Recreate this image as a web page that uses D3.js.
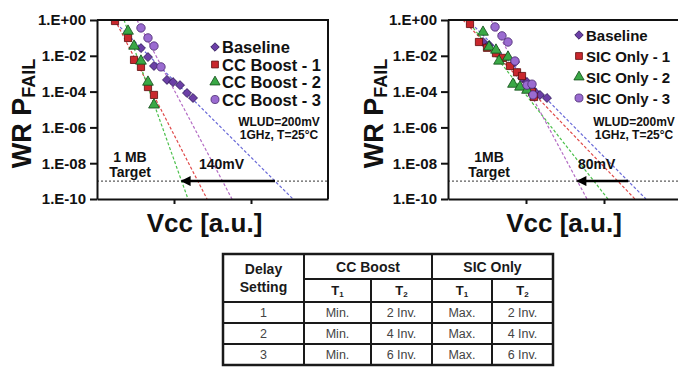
<!DOCTYPE html>
<html>
<head>
<meta charset="utf-8">
<script src="https://cdn.jsdelivr.net/npm/d3@7"></script>
<style>
  body { margin: 0; background: #fff; }
  svg { display: block; font-family: "Liberation Sans", Arial, sans-serif; }
</style>
</head>
<body>
<svg id="chart" width="678" height="373"></svg>
<script>
// ---- data (x in a.u., y = WR P_FAIL) ----
const yTicks = [1, 1e-2, 1e-4, 1e-6, 1e-8, 1e-10];
const xTicks = [1, 2];
const targetP = 1e-9;

const leftNames = ["Baseline", "CC Boost - 1", "CC Boost - 2", "CC Boost - 3"];
const leftBaseline = [[0.571, 2.7e-2], [0.662, 8.5e-3], [0.740, 2.7e-3], [0.909, 4.5e-4], [0.987, 3.4e-4], [1.078, 2.3e-4], [1.169, 8.3e-5], [1.247, 4.4e-5]];
const leftBoost1 = [[0.234, 0.88], [0.403, 9.9e-2], [0.481, 5.9e-3], [0.571, 2.4e-3], [0.662, 1.8e-4], [0.740, 6.5e-5]];
const leftBoost2 = [[0.403, 2.4e-1], [0.481, 3.5e-2], [0.571, 5.1e-3], [0.662, 3.4e-4], [0.740, 1.8e-5]];
const leftBoost3 = [[0.571, 3.6e-1], [0.662, 1.0e-1], [0.740, 3.5e-2], [0.831, 2.4e-3]];
// fit lines: x where the fit hits P = 1 and P = 1e-10
const leftFits = [[0.208, 2.545], [0.234, 1.429], [0.351, 1.182], [0.519, 1.753]];
const leftShift = "140mV";

const rightNames = ["Baseline", "SIC Only - 1", "SIC Only - 2", "SIC Only - 3"];
const rightBaseline = [[0.449, 5.9e-2], [0.526, 4.0e-2], [0.859, 4.5e-3], [0.949, 5.7e-4], [1.013, 3.4e-4], [1.115, 9.5e-5], [1.179, 6.5e-5], [1.269, 4.4e-5]];
const rightSic1 = [[0.282, 6.0e-1], [0.397, 5.9e-2], [0.500, 2.8e-2], [0.615, 1.4e-2], [0.705, 7.6e-3], [0.795, 2.7e-3], [0.885, 1.2e-3], [0.949, 7.4e-4], [1.077, 9.5e-5], [1.103, 5.0e-5]];
const rightSic2 = [[0.449, 2.1e-1], [0.526, 3.1e-2], [0.615, 2.1e-2], [0.654, 5.1e-3], [0.769, 8.5e-3], [0.833, 2.6e-4], [0.923, 1.8e-4], [1.013, 1.2e-4]];
const rightSic3 = [[0.603, 4.1e-1], [0.692, 1.3e-1], [0.769, 5.9e-2], [0.859, 5.1e-3], [1.013, 2.3e-4], [1.077, 2.6e-4], [1.090, 6.5e-5]];
const rightFits = [[0.256, 2.538], [0.192, 2.397], [0.244, 2.051], [0.551, 1.782]];
const rightShift = "80mV";

const delaySettings = ["1", "2", "3"];
const ccT1 = ["Min.", "Min.", "Min."];
const ccT2 = ["2 Inv.", "4 Inv.", "6 Inv."];
const sicT1 = ["Max.", "Max.", "Max."];
const sicT2 = ["2 Inv.", "4 Inv.", "6 Inv."];

// ---- styles ----
const markerStyles = [
  { shape: d3.symbolSquare, size: 40, rotate: 45, fill: "#6b3fa6", stroke: "#2b1454" },
  { shape: d3.symbolSquare, size: 52, rotate: 0, fill: "#c9272d", stroke: "#5c0b0b" },
  { shape: d3.symbolTriangle, size: 50, rotate: 0, fill: "#3aa846", stroke: "#104a16" },
  { shape: d3.symbolCircle, size: 56, rotate: 0, fill: "#9a6bd0", stroke: "#47276f" }
];
const fitColors = ["#6a6ad8", "#e04a4a", "#4cc04c", "#b46cc4"];

const svg = d3.select("#chart");

svg.append("defs").append("marker")
  .attr("id", "arrowhead")
  .attr("viewBox", "0 0 10 10")
  .attr("refX", 9).attr("refY", 5)
  .attr("markerWidth", 5).attr("markerHeight", 4)
  .attr("markerUnits", "strokeWidth")
  .attr("orient", "auto")
  .append("path")
  .attr("d", "M0,0 L10,5 L0,10 Z")
  .attr("fill", "#000");

function expLabel(v) {
  const e = Math.round(Math.log10(v));
  const s = String(Math.abs(e)).padStart(2, "0");
  return "1.E" + (e >= 0 ? "+" : "-") + s;
}

function drawPanel(opt) {
  const x = d3.scaleLinear().domain([0, 3]).range([opt.left, opt.right]);
  const y = d3.scaleLog().domain([1e-10, 1]).range([opt.bottom, opt.top]);
  const g = svg.append("g");

  g.append("clipPath").attr("id", opt.id + "-clip")
    .append("rect")
    .attr("x", opt.left).attr("y", opt.top)
    .attr("width", opt.right - opt.left).attr("height", opt.bottom - opt.top);

  const plot = g.append("g").attr("clip-path", `url(#${opt.id}-clip)`);

  // fit lines
  const fitLine = d3.line().x(d => x(d[0])).y(d => y(d[1]));
  opt.fits.forEach((f, i) => {
    plot.append("path")
      .attr("d", fitLine([[f[0], 1], [f[1], 1e-10]]))
      .attr("fill", "none")
      .attr("stroke", fitColors[i])
      .attr("stroke-width", 1.2)
      .attr("stroke-dasharray", "3,2");
  });

  // target line
  plot.append("line")
    .attr("x1", opt.left).attr("x2", opt.right)
    .attr("y1", y(targetP)).attr("y2", y(targetP))
    .attr("stroke", "#333").attr("stroke-width", 1)
    .attr("stroke-dasharray", "2,2");

  // points
  opt.series.forEach((pts, i) => {
    const st = markerStyles[i];
    plot.selectAll(null)
      .data(pts)
      .enter()
      .append("path")
      .attr("d", d3.symbol().type(st.shape).size(st.size))
      .attr("transform", d => `translate(${x(d[0])},${y(d[1])}) rotate(${st.rotate})`)
      .attr("fill", st.fill)
      .attr("stroke", st.stroke)
      .attr("stroke-width", 0.8);
  });

  // arrow between fits at target
  const cross = f => f[0] + (f[1] - f[0]) * (Math.log10(1) - Math.log10(targetP)) / 10;
  g.append("line")
    .attr("x1", x(cross(opt.fits[0]))).attr("y1", y(targetP))
    .attr("x2", x(cross(opt.fits[opt.arrowTo]))).attr("y2", y(targetP))
    .attr("stroke", "#000").attr("stroke-width", 2.5)
    .attr("marker-end", "url(#arrowhead)");

  // axes
  const yAxis = d3.axisLeft(y).tickValues(yTicks).tickFormat(expLabel).tickSize(7).tickSizeOuter(0).tickPadding(4);
  const ya = g.append("g").attr("transform", `translate(${opt.left},0)`).call(yAxis);
  ya.selectAll("text").attr("font-size", 15).attr("font-weight", "bold").attr("fill", "#111")
    .attr("font-family", "Liberation Sans, Arial, sans-serif");
  ya.selectAll("line").attr("stroke", "#111").attr("stroke-width", 2);
  ya.select(".domain").attr("stroke", "#111").attr("stroke-width", 2);

  const xAxis = d3.axisBottom(x).tickValues(xTicks).tickFormat("").tickSize(5).tickSizeOuter(0);
  const xa = g.append("g").attr("transform", `translate(0,${opt.bottom})`).call(xAxis);
  xa.selectAll("line").attr("stroke", "#111").attr("stroke-width", 2);
  xa.select(".domain").attr("stroke", "#111").attr("stroke-width", 2);

  // frame (top + right)
  g.append("path")
    .attr("d", `M${opt.left},${opt.top}H${opt.right}V${opt.bottom}`)
    .attr("fill", "none").attr("stroke", "#111").attr("stroke-width", 2);

  // legend
  opt.names.forEach((name, i) => {
    const st = markerStyles[i];
    const ly = opt.legendY[i];
    g.append("path")
      .attr("d", d3.symbol().type(st.shape).size(st.size * 0.9))
      .attr("transform", `translate(${opt.legendX},${ly}) rotate(${st.rotate})`)
      .attr("fill", st.fill).attr("stroke", st.stroke).attr("stroke-width", 0.8);
    g.append("text")
      .attr("x", opt.legendX + 7).attr("y", ly + opt.legendFont * 0.37)
      .attr("font-size", opt.legendFont).attr("font-weight", "bold").attr("fill", "#111")
      .text(name);
  });

  // conditions
  g.append("text").attr("x", opt.condX).attr("y", 126).attr("text-anchor", "middle")
    .attr("font-size", 12).attr("font-weight", "bold").attr("fill", "#111").text("WLUD=200mV");
  g.append("text").attr("x", opt.condX).attr("y", 139).attr("text-anchor", "middle")
    .attr("font-size", 12).attr("font-weight", "bold").attr("fill", "#111").text("1GHz, T=25°C");

  // target labels
  g.append("text").attr("x", opt.targetX).attr("y", 162).attr("text-anchor", "middle")
    .attr("font-size", 14).attr("font-weight", "bold").attr("fill", "#111").text(opt.mbLabel);
  g.append("text").attr("x", opt.targetX).attr("y", 177).attr("text-anchor", "middle")
    .attr("font-size", 14).attr("font-weight", "bold").attr("fill", "#111").text("Target");
  g.append("text").attr("x", opt.shiftX).attr("y", 169)
    .attr("font-size", 14).attr("font-weight", "bold").attr("fill", "#111").text(opt.shift);

  // axis titles
  const yt = g.append("text")
    .attr("transform", `translate(${opt.yTitleX},${(opt.top + opt.bottom) / 2 + 4}) rotate(-90)`)
    .attr("text-anchor", "middle")
    .attr("font-size", 27).attr("font-weight", "bold").attr("fill", "#111");
  yt.append("tspan").text("WR P");
  yt.append("tspan").attr("font-size", 18).attr("dy", 4).text("FAIL");

  g.append("text")
    .attr("x", (opt.left + Math.min(opt.right, 678)) / 2 + opt.xTitleShift).attr("y", 232)
    .attr("text-anchor", "middle")
    .attr("font-size", 26).attr("font-weight", "bold").attr("fill", "#111")
    .text("Vcc [a.u.]");
}

drawPanel({
  id: "left", left: 97, right: 328, top: 20, bottom: 199,
  names: leftNames, series: [leftBaseline, leftBoost1, leftBoost2, leftBoost3],
  fits: leftFits, arrowTo: 2, shift: leftShift, shiftX: 199,
  legendX: 215, legendY: [47, 64.5, 82, 99.5], legendFont: 16.5,
  condX: 279, targetX: 130, mbLabel: "1 MB",
  yTitleX: 31, xTitleShift: -8
});

drawPanel({
  id: "right", left: 448, right: 682, top: 20, bottom: 199,
  names: rightNames, series: [rightBaseline, rightSic1, rightSic2, rightSic3],
  fits: rightFits, arrowTo: 3, shift: rightShift, shiftX: 578,
  legendX: 579, legendY: [35, 56, 77, 98], legendFont: 15,
  condX: 634, targetX: 489, mbLabel: "1MB",
  yTitleX: 383, xTitleShift: 1
});

// ---- table ----
const colX = [223, 304, 371, 432, 492, 553];
const rowY = [254, 279, 302, 323, 344, 365];
const tbl = svg.append("g").attr("stroke", "#1a1a1a");

tbl.append("rect")
  .attr("x", colX[0]).attr("y", rowY[0])
  .attr("width", colX[5] - colX[0]).attr("height", rowY[5] - rowY[0])
  .attr("fill", "#fff").attr("stroke-width", 2.5);

// vertical lines
[1, 3].forEach(c => tbl.append("line").attr("x1", colX[c]).attr("x2", colX[c])
  .attr("y1", rowY[0]).attr("y2", rowY[5]).attr("stroke-width", 2));
[2, 4].forEach(c => tbl.append("line").attr("x1", colX[c]).attr("x2", colX[c])
  .attr("y1", rowY[1]).attr("y2", rowY[5]).attr("stroke-width", 2));
// horizontal lines
tbl.append("line").attr("x1", colX[1]).attr("x2", colX[5]).attr("y1", rowY[1]).attr("y2", rowY[1]).attr("stroke-width", 2);
[2, 3, 4].forEach(r => tbl.append("line").attr("x1", colX[0]).attr("x2", colX[5])
  .attr("y1", rowY[r]).attr("y2", rowY[r]).attr("stroke-width", 2));

const tt = svg.append("g").attr("text-anchor", "middle").attr("fill", "#1a1a1a");
const mid = (a, b) => (a + b) / 2;

tt.append("text").attr("x", mid(colX[0], colX[1])).attr("y", 274)
  .attr("font-size", 14).attr("font-weight", "bold").text("Delay");
tt.append("text").attr("x", mid(colX[0], colX[1])).attr("y", 292)
  .attr("font-size", 14).attr("font-weight", "bold").text("Setting");
tt.append("text").attr("x", mid(colX[1], colX[3])).attr("y", 272)
  .attr("font-size", 14).attr("font-weight", "bold").text("CC Boost");
tt.append("text").attr("x", mid(colX[3], colX[5])).attr("y", 272)
  .attr("font-size", 14).attr("font-weight", "bold").text("SIC Only");

[1, 2, 3, 4].forEach(c => {
  const t = tt.append("text").attr("x", mid(colX[c], colX[c + 1])).attr("y", 295)
    .attr("font-size", 13).attr("font-weight", "bold");
  t.append("tspan").text("T");
  t.append("tspan").attr("font-size", 8).attr("dy", 2).text(c % 2 === 1 ? "1" : "2");
});

const rowsData = d3.range(delaySettings.length).map(i => [delaySettings[i], ccT1[i], ccT2[i], sicT1[i], sicT2[i]]);
rowsData.forEach((row, r) => {
  row.forEach((val, c) => {
    tt.append("text")
      .attr("x", mid(colX[c], colX[c + 1]))
      .attr("y", mid(rowY[r + 2], rowY[r + 3]) + 4.5)
      .attr("font-size", 12.5).attr("fill", "#444")
      .text(val);
  });
});
</script>
</body>
</html>
